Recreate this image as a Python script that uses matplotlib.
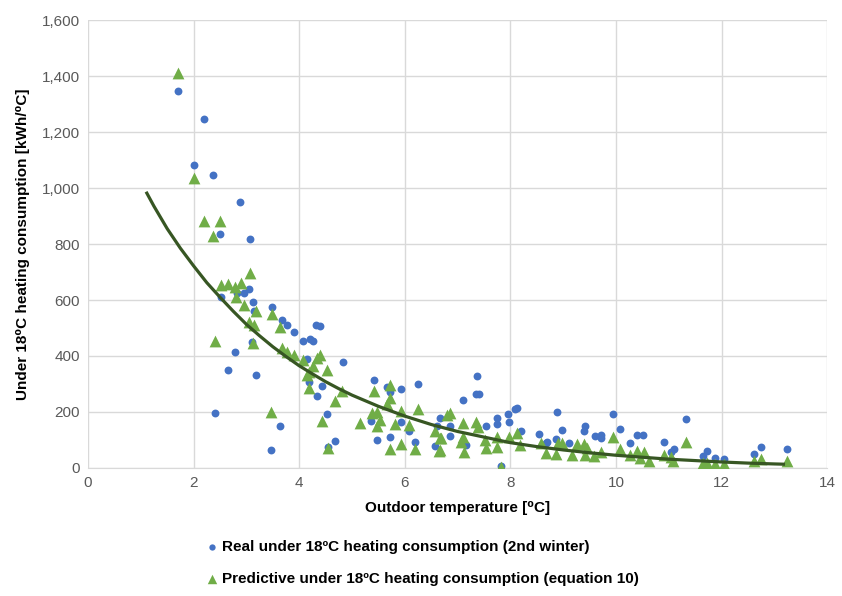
import matplotlib
matplotlib.use("Agg")
import matplotlib.pyplot as plt
from matplotlib.ticker import FuncFormatter

# ---------------------------------------------------
# Data
# ---------------------------------------------------
real_temp = [1.70, 2.20, 2.00, 2.37, 2.88, 2.50, 3.06, 3.04, 2.96, 2.83, 2.52,
             3.13, 3.14, 3.49, 3.68, 3.76, 3.90, 3.10, 2.78, 2.66, 3.19, 2.40,
             3.63, 3.46, 4.31, 4.39, 4.07, 4.21, 4.26, 4.15, 4.82, 4.19, 4.43,
             4.33, 4.53, 4.68, 4.54, 5.42, 5.67, 5.72, 5.93, 6.25, 5.36, 5.93,
             6.08, 5.47, 5.72, 6.19, 6.57, 6.67, 6.61, 7.37, 7.35, 7.40, 7.10,
             6.85, 6.86, 7.16, 7.54, 7.75, 7.75, 7.82, 7.95, 7.98, 8.08, 8.12,
             8.20, 8.55, 8.67, 8.70, 8.89, 8.97, 8.86, 9.11, 9.41, 9.39, 9.61,
             9.72, 9.72, 9.94, 10.08, 10.27, 10.40, 10.51, 10.90, 11.04, 11.10,
             11.32, 11.65, 11.72, 11.87, 12.04, 12.62, 12.74, 13.23]
real_cons = [1346, 1246, 1081, 1048, 950, 837, 818, 639, 624, 624, 612,
             594, 562, 574, 529, 511, 487, 451, 414, 350, 332, 195,
             151, 64, 511, 508, 455, 461, 454, 388, 377, 306, 294,
             257, 193, 96, 74, 314, 290, 272, 282, 300, 166, 163,
             133, 100, 110, 92, 79, 180, 148, 329, 263, 263, 243,
             151, 115, 80, 150, 177, 156, 7, 193, 163, 210, 213,
             130, 120, 90, 94, 198, 136, 102, 88, 151, 132, 114,
             118, 108, 192, 140, 88, 119, 119, 94, 58, 67,
             175, 43, 62, 37, 31, 50, 76, 69]

pred_temp = [1.70, 2.00, 2.20, 2.50, 2.36, 3.06, 2.52, 2.66, 2.78, 2.89, 2.81,
             2.96, 3.19, 3.49, 3.05, 3.14, 3.63, 2.40, 3.13, 3.68, 3.77, 3.90,
             3.46, 4.07, 4.39, 4.33, 4.27, 4.18, 4.53, 4.15, 4.18, 4.81, 4.68,
             4.43, 4.54, 5.42, 5.72, 5.72, 5.67, 5.37, 5.47, 5.15, 5.53, 5.47,
             5.81, 5.93, 6.08, 6.25, 5.72, 5.93, 6.19, 6.64, 6.57, 6.66, 6.79,
             6.86, 7.10, 7.35, 7.38, 7.10, 7.07, 7.13, 6.68, 6.66, 7.51, 7.54,
             7.75, 7.75, 7.82, 7.97, 8.12, 8.18, 8.58, 8.67, 8.90, 8.98, 8.86,
             9.17, 9.27, 9.39, 9.42, 9.59, 9.94, 9.45, 9.72, 10.07, 10.27, 10.40,
             10.46, 10.52, 10.63, 10.90, 11.05, 11.07, 11.32, 11.65, 11.72,
             11.87, 12.04, 12.62, 12.74, 13.23]
pred_cons = [1411, 1036, 881, 883, 830, 695, 654, 657, 648, 660, 612,
             582, 562, 550, 523, 511, 502, 455, 445, 430, 415, 404,
             199, 386, 404, 392, 364, 344, 350, 332, 285, 276, 239,
             168, 70, 276, 296, 249, 229, 195, 198, 160, 171, 150,
             156, 205, 154, 210, 67, 85, 67, 62, 130, 106, 189,
             195, 162, 165, 145, 112, 94, 58, 106, 64, 100, 70,
             112, 74, 3, 112, 126, 82, 88, 52, 90, 90, 50,
             46, 86, 86, 46, 43, 112, 70, 55, 67, 46, 62,
             35, 55, 23, 46, 40, 23, 94, 17, 17,
             13, 13, 23, 31, 23]

# exponential trend line
trend_temp = [1.1, 1.25, 1.5, 1.75, 2.0, 2.25, 2.5, 2.75, 3.0, 3.25, 3.5, 3.75,
              4.0, 4.25, 4.5, 4.75, 5.0, 5.5, 6.0, 6.5, 7.0, 7.5, 8.0, 8.5,
              9.0, 9.5, 10.0, 10.5, 11.0, 11.5, 12.0, 12.5, 13.0, 13.2]
trend_cons = [987, 935, 855, 785, 722, 662, 610, 560, 513, 472, 433, 398,
              365, 336, 308, 283, 260, 220, 185, 155, 130, 110, 90, 76,
              64, 54, 45, 38, 31, 26, 21, 17, 14, 13]

label_real = "Real under 18\u00baC heating consumption (2nd winter)"
label_pred = "Predictive under 18\u00baC heating consumption (equation 10)"

# ---------------------------------------------------
# Plot
# ---------------------------------------------------
plt.rcParams["font.family"] = ["Liberation Sans", "DejaVu Sans"]

fig = plt.figure(figsize=(8.42, 5.96), dpi=100)
ax = fig.add_axes([0.1045, 0.215, 0.878, 0.751])

ax.scatter(real_temp, real_cons, s=32, color="#4472C4", marker="o",
           linewidths=0, zorder=3, label=label_real)
ax.scatter(pred_temp, pred_cons, s=72, color="#70AD47", marker="^",
           linewidths=0, zorder=3, label=label_pred)
ax.plot(trend_temp, trend_cons, color="#375623", linewidth=2.3, zorder=4,
        solid_capstyle="butt")

ax.set_xlim(0, 14)
ax.set_ylim(0, 1600)
ax.set_xticks(range(0, 15, 2))
ax.set_yticks(range(0, 1601, 200))
ax.yaxis.set_major_formatter(FuncFormatter(lambda v, p: f"{int(v):,}"))

ax.grid(True, color="#D9D9D9", linewidth=1.0)
ax.set_axisbelow(True)
for side in ["top", "right", "left"]:
    ax.spines[side].set_visible(False)
ax.spines["bottom"].set_color("#D9D9D9")
ax.tick_params(length=0, labelsize=11, colors="#595959", pad=6)

ax.set_xlabel("Outdoor temperature [\u2070C]", fontsize=11, fontweight="bold",
              color="#000000", labelpad=8)
ax.set_ylabel("Under 18\u2070C heating consumption [kWh/\u2070C]", fontsize=11,
              fontweight="bold", color="#000000", labelpad=8)

handles, labels = ax.get_legend_handles_labels()
leg = fig.legend(handles, labels, loc="upper left", bbox_to_anchor=(0.235, 0.105),
                 frameon=False, fontsize=11, labelspacing=1.2, handletextpad=0.2,
                 handlelength=1.0, markerscale=0.8, borderaxespad=0)
for t in leg.get_texts():
    t.set_fontweight("bold")

fig.savefig("out.png", dpi=100)
plt.close(fig)
